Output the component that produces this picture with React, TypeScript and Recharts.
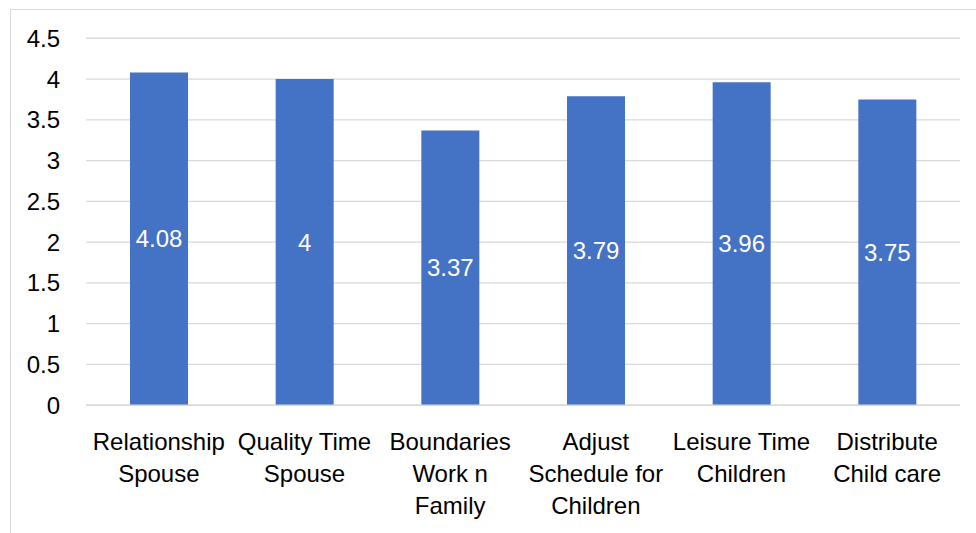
import React from "react";
import { BarChart, Bar, XAxis, YAxis, CartesianGrid, LabelList } from "recharts";

const categories = [
  "Relationship\nSpouse",
  "Quality Time\nSpouse",
  "Boundaries\nWork n\nFamily",
  "Adjust\nSchedule for\nChildren",
  "Leisure Time\nChildren",
  "Distribute\nChild care",
];
const values = [4.08, 4, 3.37, 3.79, 3.96, 3.75];
const yTicks = [0, 0.5, 1, 1.5, 2, 2.5, 3, 3.5, 4, 4.5];

const data = categories.map((c, i) => ({ name: c, value: values[i] }));

const FONT = "'Liberation Sans', Arial, sans-serif";

const MultiTick = (props: any) => {
  const { x, y, payload } = props;
  const lines = String(payload.value).split("\n");
  return (
    <text x={x} y={y} textAnchor="middle" fill="#000" fontFamily={FONT} fontSize={24}>
      {lines.map((l, i) => (
        <tspan key={i} x={x} y={y + 44.5 + i * 32}>
          {l}
        </tspan>
      ))}
    </text>
  );
};

export default function App() {
  return (
    <div style={{ position: "absolute", left: 0, top: 0, width: 976, height: 533, background: "#fff", overflow: "hidden" }}>
      <div
        style={{
          position: "absolute",
          left: 10,
          top: 9,
          width: 1000,
          height: 600,
          borderLeft: "1px solid #d9d9d9",
          borderTop: "1px solid #d9d9d9",
          boxSizing: "border-box",
        }}
      />
      <div style={{ position: "absolute", left: 0, top: 0 }}>
        <BarChart
          width={976}
          height={533}
          data={data}
          margin={{ top: 38.25, right: 16, bottom: 0, left: 0 }}
          barCategoryGap={0}
        >
          <CartesianGrid vertical={false} stroke="#d9d9d9" strokeWidth={1.3} />
          <XAxis
            dataKey="name"
            height={127.75}
            interval={0}
            tickLine={false}
            tickSize={0}
            tickMargin={0}
            axisLine={{ stroke: "#d9d9d9", strokeWidth: 1.3 }}
            tick={<MultiTick />}
          />
          <YAxis
            width={86}
            domain={[0, 4.5]}
            ticks={yTicks}
            interval={0}
            axisLine={false}
            tickLine={false}
            tickSize={6}
            tickMargin={20}
            tick={{ fill: "#000", fontSize: 24, fontFamily: FONT }}
          />
          <Bar dataKey="value" fill="#4472c4" barSize={58} isAnimationActive={false}>
            <LabelList
              dataKey="value"
              position="center"
              fill="#fff"
              style={{ fontSize: 24, fontFamily: FONT, fill: "#fff" }}
            />
          </Bar>
        </BarChart>
      </div>
    </div>
  );
}
